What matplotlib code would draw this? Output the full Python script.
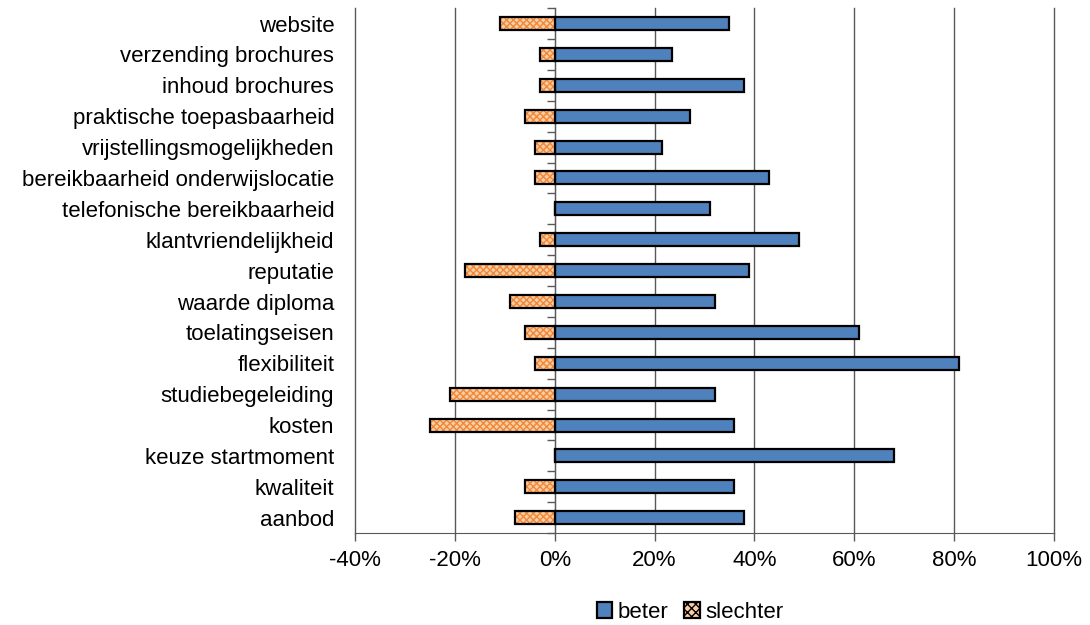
import numpy as np
import matplotlib
matplotlib.use('Agg')
import matplotlib.pyplot as plt
from matplotlib.patches import Patch
from matplotlib.ticker import FuncFormatter

plt.rcParams['font.family'] = ['Liberation Sans', 'DejaVu Sans']

# categories listed from top to bottom
categories = ['website', 'verzending brochures', 'inhoud brochures',
              'praktische toepasbaarheid', 'vrijstellingsmogelijkheden',
              'bereikbaarheid onderwijslocatie', 'telefonische bereikbaarheid',
              'klantvriendelijkheid', 'reputatie', 'waarde diploma',
              'toelatingseisen', 'flexibiliteit', 'studiebegeleiding',
              'kosten', 'keuze startmoment', 'kwaliteit', 'aanbod']
beter = [35, 23.5, 38, 27, 21.5, 43, 31, 49, 39, 32, 61, 81, 32, 36, 68, 36, 38]
slechter = [-11, -3, -3, -6, -4, -4, 0, -3, -18, -9, -6, -4, -21, -25, 0, -6, -8]
xticks = [-40, -20, 0, 20, 40, 60, 80, 100]

blue = '#4F81BD'
orange_fill = '#FBCDA3'
orange_hatch = '#F0883A'
fs = 16

fig = plt.figure(figsize=(10.9, 6.25), dpi=100)
ax = fig.add_axes([0.3257, 0.147, 0.967 - 0.3257, 0.987 - 0.147])

n = len(categories)
y = np.arange(n)[::-1]
h = 0.42

ax.barh(y, beter, h, color=blue, edgecolor='black', linewidth=1.6, zorder=3)
# hatched fill first, then a black outline on top
ax.barh(y, slechter, h, color=orange_fill, edgecolor=orange_hatch,
        hatch='xxxxx', linewidth=0, zorder=3)
ax.barh(y, slechter, h, fill=False, edgecolor='black', linewidth=1.6, zorder=4)

ax.set_xlim(xticks[0], xticks[-1])
ax.set_ylim(-0.5, n - 0.5)
ax.set_xticks(xticks)
ax.xaxis.set_major_formatter(FuncFormatter(lambda v, p: '%d%%' % v))
ax.set_yticks(y)
ax.set_yticklabels(categories)
ax.tick_params(axis='y', length=0, pad=15, labelsize=fs)
ax.tick_params(axis='x', length=6, width=1, color='#595959', pad=6,
               labelsize=fs)

for s in ['top', 'right', 'left']:
    ax.spines[s].set_visible(False)
ax.spines['bottom'].set_color('#595959')

ax.grid(axis='x', color='#595959', linewidth=1, zorder=0)
for gl in ax.get_xgridlines():
    gl.set_clip_on(False)

# vertical axis at 0% with ticks between categories
zero_pos = (0 - xticks[0]) / (xticks[-1] - xticks[0])
sec = ax.secondary_yaxis(zero_pos)
sec.set_yticks(np.arange(n + 1) - 0.5)
sec.set_yticklabels([])
sec.tick_params(length=6, width=1, color='#595959')
sec.spines['left'].set_color('#595959')
sec.spines['left'].set_zorder(5)

handles = [Patch(facecolor=blue, edgecolor='black', linewidth=1.6, label='beter'),
           Patch(facecolor=orange_fill, edgecolor=orange_hatch, hatch='xxxx',
                 linewidth=1.6, label='slechter')]
leg = fig.legend(handles=handles, loc='center', bbox_to_anchor=(0.633, 0.02),
                 ncol=2, frameon=False, fontsize=fs, handlelength=0.7,
                 handleheight=0.7, handletextpad=0.25, columnspacing=0.7)
leg.legend_handles[1].set_edgecolor('black')

fig.savefig('out.png', dpi=100)
